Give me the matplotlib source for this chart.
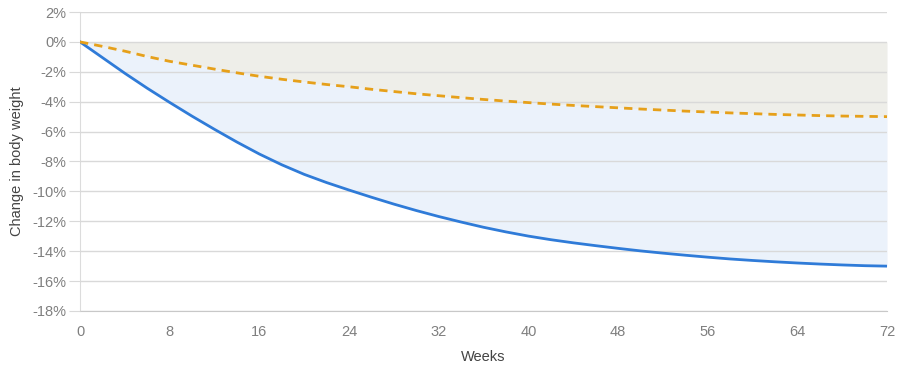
import matplotlib
matplotlib.use("Agg")
import matplotlib.pyplot as plt

weeks = list(range(0, 73, 2))
drug = [0, -1.05, -2.1, -3.1, -4.05, -4.97, -5.85, -6.7, -7.5, -8.22, -8.86,
        -9.41, -9.91, -10.39, -10.85, -11.28, -11.68, -12.05, -12.4, -12.71,
        -12.99, -13.23, -13.44, -13.63, -13.81, -13.98, -14.13, -14.27, -14.4,
        -14.52, -14.62, -14.71, -14.79, -14.86, -14.92, -14.97, -15.0]
placebo = [0, -0.3, -0.62, -0.98, -1.3, -1.56, -1.82, -2.07, -2.3, -2.5, -2.68,
           -2.85, -3.0, -3.17, -3.32, -3.47, -3.6, -3.73, -3.85, -3.96, -4.06,
           -4.16, -4.25, -4.33, -4.41, -4.49, -4.56, -4.63, -4.69, -4.75, -4.8,
           -4.85, -4.89, -4.93, -4.96, -4.98, -5.0]
xticks = [0, 8, 16, 24, 32, 40, 48, 56, 64, 72]
yticks = list(range(-18, 3, 2))

plt.rcParams['font.family'] = ['Liberation Sans', 'DejaVu Sans']

fig = plt.figure(figsize=(9, 3.75), dpi=100)
ax = fig.add_axes([0.0889, 0.1707, 0.8967, 0.7973])

ax.fill_between(weeks, 0, placebo, color='#eeeee9', lw=0, zorder=1)
ax.fill_between(weeks, placebo, drug, color='#ebf2fb', lw=0, zorder=1)
ax.plot(weeks, drug, color='#2f7bd8', lw=2, zorder=3)
ax.plot(weeks, placebo, color='#e6a01a', lw=2, ls=(0, (3, 2.2)), zorder=3)

ax.set_xlim(0, 72)
ax.set_ylim(-18, 2)
ax.set_xticks(xticks)
ax.set_yticks(yticks)
ax.set_yticklabels([f"{v}%" for v in yticks])
ax.grid(axis='y', color='#d9d9d9', lw=1, zorder=2)
ax.set_axisbelow(False)
for s in ['top', 'right']:
    ax.spines[s].set_visible(False)
ax.spines['left'].set_color('#dcdcdc')
ax.spines['bottom'].set_color('#c8c8c8')
ax.tick_params(axis='y', length=8, color='#d9d9d9', labelcolor='#7f7f7f', labelsize=10.5, pad=2)
ax.tick_params(axis='x', length=0, labelcolor='#7f7f7f', labelsize=10.5, pad=10)
ax.set_xlabel('Weeks', color='#444444', fontsize=10.5, labelpad=8)
ax.set_ylabel('Change in body weight', color='#444444', fontsize=10.5, labelpad=6)

fig.savefig('out.png', dpi=100)
